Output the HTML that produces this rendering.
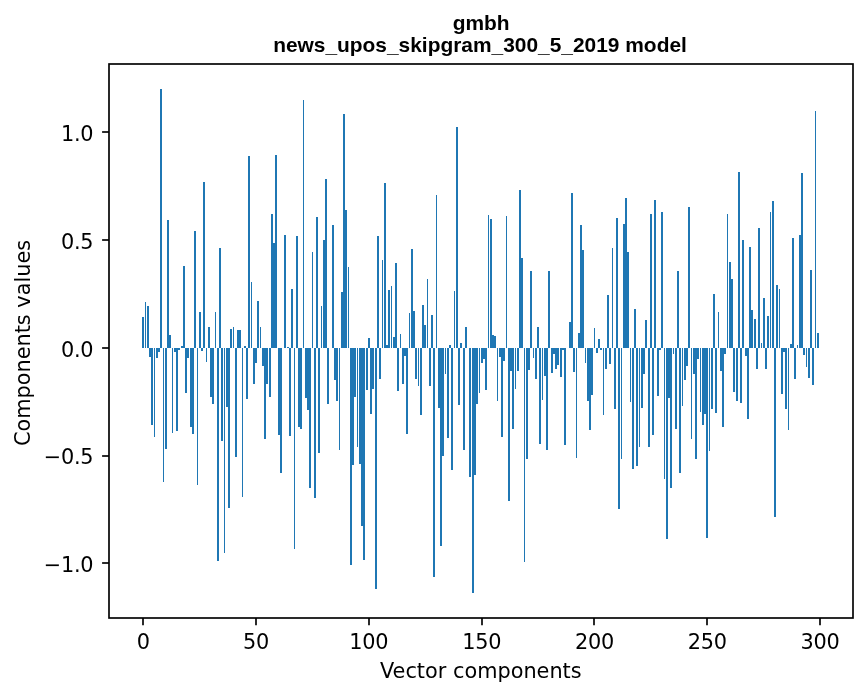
<!DOCTYPE html>
<html><head><meta charset="utf-8"><title>gmbh</title>
<style>
html,body{margin:0;padding:0;background:#fff;}
svg{display:block;}
.t{font-family:"DejaVu Sans","Liberation Sans",sans-serif;font-size:20.83px;fill:#000;}
.h{font-family:"Liberation Sans",sans-serif;font-weight:bold;font-size:20.92px;fill:#000;}
</style></head><body>
<svg width="867" height="696" viewBox="0 0 867 696">
<rect width="867" height="696" fill="#fff"/>
<g fill="#1f77b4" shape-rendering="crispEdges">
<rect x="142" y="317" width="2" height="31"/>
<rect x="145" y="302" width="1" height="46"/>
<rect x="147" y="306" width="2" height="42"/>
<rect x="149" y="348" width="2" height="9"/>
<rect x="151" y="348" width="2" height="77"/>
<rect x="154" y="348" width="1" height="89"/>
<rect x="156" y="348" width="2" height="10"/>
<rect x="158" y="348" width="2" height="4"/>
<rect x="160" y="89" width="2" height="259"/>
<rect x="163" y="348" width="1" height="134"/>
<rect x="165" y="348" width="2" height="101"/>
<rect x="167" y="220" width="2" height="128"/>
<rect x="169" y="335" width="2" height="13"/>
<rect x="172" y="348" width="1" height="85"/>
<rect x="174" y="348" width="2" height="4"/>
<rect x="176" y="348" width="2" height="83"/>
<rect x="178" y="348" width="2" height="2"/>
<rect x="181" y="346" width="2" height="2"/>
<rect x="183" y="266" width="2" height="82"/>
<rect x="185" y="348" width="2" height="45"/>
<rect x="187" y="348" width="2" height="10"/>
<rect x="190" y="348" width="2" height="79"/>
<rect x="192" y="348" width="2" height="86"/>
<rect x="194" y="231" width="2" height="117"/>
<rect x="197" y="348" width="1" height="137"/>
<rect x="199" y="312" width="2" height="36"/>
<rect x="201" y="348" width="2" height="3"/>
<rect x="203" y="182" width="2" height="166"/>
<rect x="206" y="348" width="1" height="14"/>
<rect x="208" y="327" width="2" height="21"/>
<rect x="210" y="348" width="2" height="49"/>
<rect x="212" y="348" width="2" height="56"/>
<rect x="215" y="312" width="1" height="36"/>
<rect x="217" y="348" width="2" height="213"/>
<rect x="219" y="248" width="2" height="100"/>
<rect x="221" y="348" width="2" height="93"/>
<rect x="224" y="348" width="1" height="205"/>
<rect x="226" y="348" width="2" height="59"/>
<rect x="228" y="348" width="2" height="160"/>
<rect x="230" y="329" width="2" height="19"/>
<rect x="233" y="327" width="1" height="21"/>
<rect x="235" y="348" width="2" height="109"/>
<rect x="237" y="330" width="2" height="18"/>
<rect x="239" y="330" width="2" height="18"/>
<rect x="242" y="348" width="1" height="149"/>
<rect x="244" y="346" width="2" height="2"/>
<rect x="246" y="348" width="2" height="51"/>
<rect x="248" y="156" width="2" height="192"/>
<rect x="251" y="282" width="1" height="66"/>
<rect x="253" y="348" width="2" height="36"/>
<rect x="255" y="348" width="2" height="15"/>
<rect x="257" y="301" width="2" height="47"/>
<rect x="260" y="327" width="1" height="21"/>
<rect x="262" y="348" width="2" height="18"/>
<rect x="264" y="348" width="2" height="91"/>
<rect x="266" y="348" width="2" height="36"/>
<rect x="269" y="348" width="2" height="49"/>
<rect x="271" y="214" width="2" height="134"/>
<rect x="273" y="243" width="2" height="105"/>
<rect x="275" y="155" width="2" height="193"/>
<rect x="278" y="348" width="2" height="87"/>
<rect x="280" y="348" width="2" height="125"/>
<rect x="284" y="235" width="2" height="113"/>
<rect x="287" y="347" width="2" height="1"/>
<rect x="289" y="348" width="2" height="88"/>
<rect x="291" y="289" width="2" height="59"/>
<rect x="294" y="348" width="1" height="201"/>
<rect x="296" y="236" width="2" height="112"/>
<rect x="298" y="348" width="2" height="79"/>
<rect x="300" y="348" width="2" height="81"/>
<rect x="303" y="100" width="1" height="248"/>
<rect x="305" y="348" width="2" height="50"/>
<rect x="307" y="348" width="2" height="62"/>
<rect x="309" y="348" width="2" height="140"/>
<rect x="312" y="252" width="1" height="96"/>
<rect x="314" y="348" width="2" height="150"/>
<rect x="316" y="217" width="2" height="131"/>
<rect x="318" y="348" width="2" height="105"/>
<rect x="321" y="306" width="1" height="42"/>
<rect x="323" y="240" width="2" height="108"/>
<rect x="325" y="179" width="2" height="169"/>
<rect x="327" y="348" width="2" height="56"/>
<rect x="332" y="225" width="2" height="123"/>
<rect x="334" y="348" width="2" height="32"/>
<rect x="336" y="348" width="2" height="53"/>
<rect x="339" y="348" width="1" height="102"/>
<rect x="341" y="292" width="2" height="56"/>
<rect x="343" y="114" width="2" height="234"/>
<rect x="345" y="210" width="2" height="138"/>
<rect x="348" y="267" width="1" height="81"/>
<rect x="350" y="348" width="2" height="217"/>
<rect x="352" y="348" width="2" height="117"/>
<rect x="354" y="348" width="2" height="49"/>
<rect x="357" y="348" width="1" height="99"/>
<rect x="359" y="348" width="2" height="116"/>
<rect x="361" y="348" width="2" height="178"/>
<rect x="363" y="348" width="2" height="212"/>
<rect x="366" y="348" width="2" height="42"/>
<rect x="368" y="338" width="2" height="10"/>
<rect x="370" y="348" width="2" height="66"/>
<rect x="372" y="348" width="2" height="41"/>
<rect x="375" y="348" width="2" height="241"/>
<rect x="377" y="236" width="2" height="112"/>
<rect x="379" y="348" width="2" height="31"/>
<rect x="382" y="260" width="1" height="88"/>
<rect x="384" y="183" width="2" height="165"/>
<rect x="386" y="345" width="2" height="3"/>
<rect x="388" y="290" width="2" height="58"/>
<rect x="391" y="286" width="1" height="62"/>
<rect x="393" y="337" width="2" height="11"/>
<rect x="395" y="263" width="2" height="85"/>
<rect x="397" y="348" width="2" height="43"/>
<rect x="400" y="334" width="1" height="14"/>
<rect x="402" y="348" width="2" height="36"/>
<rect x="404" y="348" width="2" height="8"/>
<rect x="406" y="348" width="2" height="86"/>
<rect x="409" y="313" width="1" height="35"/>
<rect x="411" y="249" width="2" height="99"/>
<rect x="413" y="311" width="2" height="37"/>
<rect x="415" y="348" width="2" height="31"/>
<rect x="418" y="348" width="1" height="38"/>
<rect x="420" y="348" width="2" height="67"/>
<rect x="422" y="305" width="2" height="43"/>
<rect x="424" y="325" width="2" height="23"/>
<rect x="427" y="279" width="1" height="69"/>
<rect x="429" y="348" width="2" height="38"/>
<rect x="431" y="315" width="2" height="33"/>
<rect x="433" y="348" width="2" height="229"/>
<rect x="436" y="195" width="1" height="153"/>
<rect x="438" y="348" width="2" height="60"/>
<rect x="440" y="348" width="2" height="198"/>
<rect x="442" y="348" width="2" height="108"/>
<rect x="445" y="348" width="1" height="26"/>
<rect x="447" y="348" width="2" height="90"/>
<rect x="449" y="345" width="2" height="3"/>
<rect x="451" y="348" width="2" height="122"/>
<rect x="454" y="291" width="1" height="57"/>
<rect x="456" y="127" width="2" height="221"/>
<rect x="458" y="348" width="2" height="57"/>
<rect x="460" y="343" width="2" height="5"/>
<rect x="463" y="348" width="2" height="102"/>
<rect x="465" y="327" width="2" height="21"/>
<rect x="469" y="348" width="2" height="129"/>
<rect x="472" y="348" width="2" height="245"/>
<rect x="474" y="348" width="2" height="127"/>
<rect x="476" y="348" width="2" height="56"/>
<rect x="479" y="348" width="1" height="45"/>
<rect x="481" y="348" width="2" height="15"/>
<rect x="483" y="348" width="2" height="11"/>
<rect x="485" y="348" width="2" height="42"/>
<rect x="488" y="215" width="1" height="133"/>
<rect x="490" y="219" width="2" height="129"/>
<rect x="492" y="335" width="2" height="13"/>
<rect x="494" y="336" width="2" height="12"/>
<rect x="497" y="348" width="1" height="53"/>
<rect x="499" y="348" width="2" height="9"/>
<rect x="501" y="348" width="2" height="89"/>
<rect x="503" y="348" width="2" height="13"/>
<rect x="506" y="216" width="1" height="132"/>
<rect x="508" y="348" width="2" height="153"/>
<rect x="510" y="348" width="2" height="23"/>
<rect x="512" y="348" width="2" height="81"/>
<rect x="515" y="348" width="1" height="41"/>
<rect x="517" y="348" width="2" height="23"/>
<rect x="519" y="190" width="2" height="158"/>
<rect x="521" y="258" width="2" height="90"/>
<rect x="524" y="348" width="1" height="214"/>
<rect x="526" y="348" width="2" height="111"/>
<rect x="528" y="348" width="2" height="22"/>
<rect x="530" y="271" width="2" height="77"/>
<rect x="533" y="348" width="1" height="10"/>
<rect x="535" y="348" width="2" height="31"/>
<rect x="537" y="327" width="2" height="21"/>
<rect x="539" y="348" width="2" height="96"/>
<rect x="542" y="348" width="1" height="52"/>
<rect x="544" y="348" width="2" height="28"/>
<rect x="546" y="348" width="2" height="102"/>
<rect x="548" y="271" width="2" height="77"/>
<rect x="551" y="348" width="2" height="25"/>
<rect x="553" y="348" width="2" height="6"/>
<rect x="555" y="348" width="2" height="21"/>
<rect x="557" y="348" width="2" height="17"/>
<rect x="560" y="348" width="2" height="29"/>
<rect x="562" y="348" width="2" height="2"/>
<rect x="564" y="348" width="2" height="97"/>
<rect x="569" y="322" width="2" height="26"/>
<rect x="571" y="193" width="2" height="155"/>
<rect x="573" y="348" width="2" height="24"/>
<rect x="576" y="348" width="1" height="110"/>
<rect x="578" y="333" width="2" height="15"/>
<rect x="580" y="225" width="2" height="123"/>
<rect x="582" y="250" width="2" height="98"/>
<rect x="585" y="348" width="1" height="15"/>
<rect x="587" y="348" width="2" height="53"/>
<rect x="589" y="348" width="2" height="82"/>
<rect x="591" y="348" width="2" height="47"/>
<rect x="594" y="328" width="1" height="20"/>
<rect x="596" y="348" width="2" height="5"/>
<rect x="598" y="339" width="2" height="9"/>
<rect x="600" y="348" width="2" height="2"/>
<rect x="603" y="348" width="1" height="67"/>
<rect x="605" y="348" width="2" height="21"/>
<rect x="607" y="295" width="2" height="53"/>
<rect x="609" y="348" width="2" height="16"/>
<rect x="612" y="248" width="1" height="100"/>
<rect x="614" y="348" width="2" height="61"/>
<rect x="616" y="218" width="2" height="130"/>
<rect x="618" y="348" width="2" height="161"/>
<rect x="621" y="348" width="1" height="111"/>
<rect x="623" y="224" width="2" height="124"/>
<rect x="625" y="198" width="2" height="150"/>
<rect x="627" y="252" width="2" height="96"/>
<rect x="630" y="348" width="1" height="54"/>
<rect x="632" y="348" width="2" height="121"/>
<rect x="634" y="309" width="2" height="39"/>
<rect x="636" y="348" width="2" height="118"/>
<rect x="639" y="348" width="1" height="99"/>
<rect x="641" y="348" width="2" height="60"/>
<rect x="643" y="348" width="2" height="26"/>
<rect x="645" y="320" width="2" height="28"/>
<rect x="648" y="348" width="2" height="99"/>
<rect x="650" y="214" width="2" height="134"/>
<rect x="652" y="348" width="2" height="87"/>
<rect x="654" y="200" width="2" height="148"/>
<rect x="657" y="348" width="2" height="48"/>
<rect x="659" y="348" width="2" height="2"/>
<rect x="661" y="212" width="2" height="136"/>
<rect x="664" y="348" width="1" height="131"/>
<rect x="666" y="348" width="2" height="191"/>
<rect x="668" y="348" width="2" height="50"/>
<rect x="670" y="348" width="2" height="140"/>
<rect x="673" y="348" width="1" height="6"/>
<rect x="675" y="348" width="2" height="81"/>
<rect x="677" y="271" width="2" height="77"/>
<rect x="679" y="348" width="2" height="125"/>
<rect x="682" y="348" width="1" height="58"/>
<rect x="684" y="348" width="2" height="32"/>
<rect x="686" y="348" width="2" height="18"/>
<rect x="688" y="207" width="2" height="141"/>
<rect x="691" y="348" width="1" height="91"/>
<rect x="693" y="348" width="2" height="26"/>
<rect x="695" y="348" width="2" height="111"/>
<rect x="697" y="348" width="2" height="11"/>
<rect x="700" y="348" width="1" height="64"/>
<rect x="702" y="348" width="2" height="77"/>
<rect x="704" y="348" width="2" height="66"/>
<rect x="706" y="348" width="2" height="190"/>
<rect x="709" y="348" width="1" height="103"/>
<rect x="711" y="348" width="2" height="61"/>
<rect x="713" y="294" width="2" height="54"/>
<rect x="715" y="348" width="2" height="65"/>
<rect x="718" y="312" width="1" height="36"/>
<rect x="720" y="348" width="2" height="23"/>
<rect x="722" y="348" width="2" height="79"/>
<rect x="724" y="348" width="2" height="6"/>
<rect x="727" y="214" width="1" height="134"/>
<rect x="729" y="262" width="2" height="86"/>
<rect x="731" y="279" width="2" height="69"/>
<rect x="733" y="348" width="2" height="44"/>
<rect x="736" y="348" width="2" height="53"/>
<rect x="738" y="172" width="2" height="176"/>
<rect x="740" y="348" width="2" height="55"/>
<rect x="742" y="240" width="2" height="108"/>
<rect x="745" y="348" width="2" height="8"/>
<rect x="747" y="348" width="2" height="71"/>
<rect x="749" y="247" width="2" height="101"/>
<rect x="751" y="310" width="2" height="38"/>
<rect x="754" y="319" width="2" height="29"/>
<rect x="756" y="348" width="2" height="21"/>
<rect x="758" y="228" width="2" height="120"/>
<rect x="761" y="343" width="1" height="5"/>
<rect x="763" y="298" width="2" height="50"/>
<rect x="765" y="348" width="2" height="21"/>
<rect x="767" y="316" width="2" height="32"/>
<rect x="770" y="212" width="1" height="136"/>
<rect x="772" y="201" width="2" height="147"/>
<rect x="774" y="348" width="2" height="169"/>
<rect x="776" y="285" width="2" height="63"/>
<rect x="779" y="289" width="1" height="59"/>
<rect x="781" y="348" width="2" height="46"/>
<rect x="783" y="348" width="2" height="4"/>
<rect x="785" y="348" width="2" height="61"/>
<rect x="788" y="348" width="1" height="82"/>
<rect x="790" y="344" width="2" height="4"/>
<rect x="792" y="238" width="2" height="110"/>
<rect x="794" y="348" width="2" height="31"/>
<rect x="797" y="345" width="1" height="3"/>
<rect x="799" y="235" width="2" height="113"/>
<rect x="801" y="173" width="2" height="175"/>
<rect x="803" y="348" width="2" height="7"/>
<rect x="806" y="348" width="1" height="19"/>
<rect x="808" y="348" width="2" height="30"/>
<rect x="810" y="270" width="2" height="78"/>
<rect x="812" y="348" width="2" height="37"/>
<rect x="815" y="111" width="1" height="237"/>
<rect x="817" y="333" width="2" height="15"/>
</g>
<g fill="none" stroke="#000" stroke-width="1.667">
<rect x="109" y="64" width="744" height="554" stroke-linejoin="miter"/>
<line x1="143" y1="618" x2="143" y2="625.3"/><line x1="256" y1="618" x2="256" y2="625.3"/><line x1="369" y1="618" x2="369" y2="625.3"/><line x1="482" y1="618" x2="482" y2="625.3"/><line x1="594" y1="618" x2="594" y2="625.3"/><line x1="707" y1="618" x2="707" y2="625.3"/><line x1="820" y1="618" x2="820" y2="625.3"/>
<line x1="102.1" y1="563" x2="109" y2="563"/><line x1="102.1" y1="456" x2="109" y2="456"/><line x1="102.1" y1="348" x2="109" y2="348"/><line x1="102.1" y1="240" x2="109" y2="240"/><line x1="102.1" y1="132" x2="109" y2="132"/>
</g>
<g class="t" letter-spacing="-0.25">
<text x="143.26" y="648.6" text-anchor="middle">0</text><text x="256.06" y="648.6" text-anchor="middle">50</text><text x="368.87" y="648.6" text-anchor="middle">100</text><text x="481.67" y="648.6" text-anchor="middle">150</text><text x="594.47" y="648.6" text-anchor="middle">200</text><text x="707.27" y="648.6" text-anchor="middle">250</text><text x="820.08" y="648.6" text-anchor="middle">300</text>
<text x="93.3" y="572.30" text-anchor="end">−1.0</text><text x="93.3" y="464.45" text-anchor="end">−0.5</text><text x="93.3" y="356.60" text-anchor="end">0.0</text><text x="93.3" y="248.75" text-anchor="end">0.5</text><text x="93.3" y="140.90" text-anchor="end">1.0</text>
</g>
<g class="t">
<text x="480.8" y="677.5" text-anchor="middle">Vector components</text>
<text transform="translate(30.1,343.0) rotate(-90)" text-anchor="middle">Components values</text>
</g>
<g class="h">
<text x="481.1" y="29.9" text-anchor="middle">gmbh</text>
<text x="480" y="51.9" text-anchor="middle">news_upos_skipgram_300_5_2019 model</text>
</g>
</svg>
</body></html>
